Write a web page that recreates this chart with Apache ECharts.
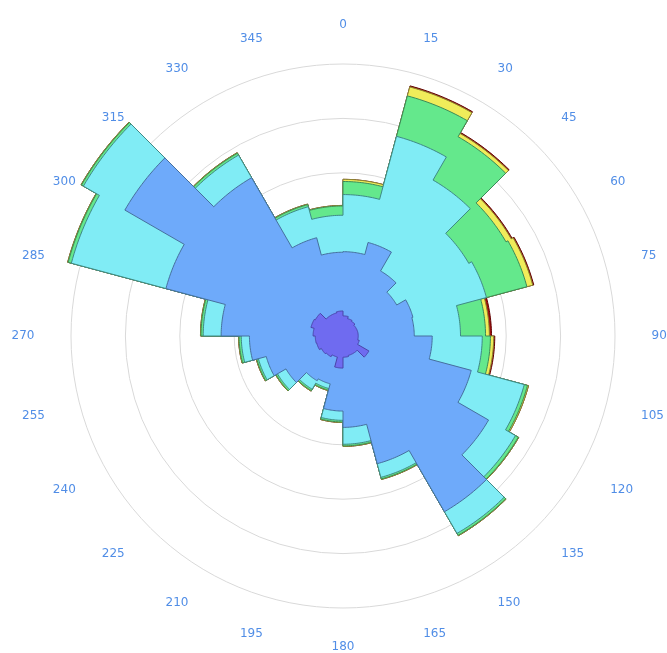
<!DOCTYPE html>
<html>
<head>
<meta charset="utf-8">
<script src="https://cdn.jsdelivr.net/npm/echarts@6/dist/echarts.min.js"></script>
<style>
  html, body { margin: 0; padding: 0; background: #fff; }
  #chart { width: 667px; height: 653px; }
</style>
</head>
<body>
<div id="chart"></div>
<script>
// sector start angles, 15 degree sectors clockwise from north
const sectorStart = [0, 15, 30, 45, 60, 75, 90, 105, 120, 135, 150, 165,
                     180, 195, 210, 225, 240, 255, 270, 285, 300, 315, 330, 345];
const sectorWidth = 15;

// frequency per speed class (stacked outward), one value per sector
const speed1 = [0.37, 0.33, 0.31, 0.28, 0.28, 0.28, 0.28, 0.31, 0.55, 0.37, 0.37, 0.39,
                0.59, 0.40, 0.44, 0.46, 0.50, 0.51, 0.55, 0.61, 0.59, 0.44, 0.44, 0.46];
const speed2 = [1.18, 1.45, 1.07, 0.86, 1.05, 1.03, 1.36, 2.13, 2.54, 3.36, 2.06, 1.29,
                0.79, 0.51, 0.51, 0.75, 0.96, 1.21, 1.69, 2.76, 4.04, 2.92, 1.43, 1.08];
const speed3 = [1.05, 2.02, 1.93, 1.53, 1.40, 0.85, 0.92, 1.01, 0.57, 0.46, 0.26, 0.31,
                0.17, 0.09, 0.18, 0.18, 0.15, 0.15, 0.33, 1.80, 0.88, 0.48, 0.59, 0.68];
const speed4 = [0.24, 0.77, 0.92, 0.79, 0.77, 0.46, 0.15, 0.06, 0.06, 0.04, 0.03, 0.03,
                0.03, 0.03, 0.03, 0.03, 0.03, 0.04, 0.04, 0.06, 0.04, 0.04, 0.04, 0.17];
const speed5 = [0.04, 0.17, 0.07, 0.11, 0.11, 0.07, 0.06, 0.02, 0.01, 0.01, 0.01, 0.01,
                0.01, 0.01, 0.01, 0.01, 0.01, 0.01, 0.01, 0.01, 0.01, 0.01, 0.01, 0.01];
const speed6 = [0, 0.02, 0.02, 0.02, 0.02, 0.04, 0.02, 0, 0, 0, 0, 0,
                0, 0, 0, 0, 0, 0, 0, 0, 0, 0, 0, 0];

const speedNames = ['0-2', '2-4', '4-6', '6-8', '8-10', '>10'];

// angle tick labels
const angleTicks = [0, 15, 30, 45, 60, 75, 90, 105, 120, 135, 150, 165,
                    180, 195, 210, 225, 240, 255, 270, 285, 300, 315, 330, 345];

const center = [343, 336];
const ringRadius = 272;   // outer grid circle, px
const ringCount = 5;
const pxPerUnit = ringRadius / ringCount;
const labelRadius = 308 / pxPerUnit;

const colors  = ['#6f6bf0', '#6eaafa', '#80ecf5', '#64e88c', '#f0ec5a', '#a01010'];
const strokes = ['#4a44a8', '#46709e', '#3f8a86', '#3b8a58', '#8a8630', '#600000'];

const bands = [speed1, speed2, speed3, speed4, speed5, speed6];

// running totals: outer edge of each band per sector
const cumulative = [];
bands.forEach((arr, i) => {
    cumulative.push(arr.map((v, s) => v + (i > 0 ? cumulative[i - 1][s] : 0)));
});

// draw outermost band first so inner ones sit on top
const drawOrder = bands.map((_, i) => bands.length - 1 - i);

function renderBand(params, api) {
    const band = drawOrder[params.dataIndex];
    const radii = cumulative[band];
    const points = [];
    sectorStart.forEach((a0, s) => {
        for (let a = a0; a <= a0 + sectorWidth; a += 1) {
            points.push(api.coord([radii[s], a]));
        }
    });
    return {
        type: 'polygon',
        shape: { points: points },
        style: { fill: colors[band], stroke: strokes[band], lineWidth: 1 }
    };
}

function tickLabel(a) {
    // labels sit beside the point, except straight up / down
    if (a === 0) return { position: 'top', offset: [0, 3] };
    if (a === 180) return { position: 'bottom', offset: [0, -4] };
    return { position: a < 180 ? 'right' : 'left' };
}

const chart = echarts.init(document.getElementById('chart'), null, { renderer: 'canvas' });

chart.setOption({
    animation: false,
    polar: { center: center, radius: ringRadius },
    angleAxis: {
        type: 'value',
        min: 0,
        max: 360,
        interval: sectorWidth,
        startAngle: 90,
        clockwise: true,
        axisLine: { show: false },
        axisTick: { show: false },
        axisLabel: { show: false },
        splitLine: { show: false }
    },
    radiusAxis: {
        type: 'value',
        min: 0,
        max: ringCount,
        interval: 1,
        axisLine: { show: false },
        axisTick: { show: false },
        axisLabel: { show: false },
        splitLine: { show: true, lineStyle: { color: '#d9d9d9', width: 1 } }
    },
    series: [
        {
            type: 'custom',
            name: 'wind',
            coordinateSystem: 'polar',
            clip: false,
            silent: true,
            data: drawOrder.map((b) => ({ name: speedNames[b], value: [b, 0] })),
            renderItem: renderBand
        },
        {
            type: 'scatter',
            name: 'ticks',
            coordinateSystem: 'polar',
            clip: false,
            silent: true,
            symbolSize: 1,
            itemStyle: { color: 'rgba(0,0,0,0)' },
            data: angleTicks.map((a) => ({ value: [labelRadius, a], label: tickLabel(a) })),
            label: {
                show: true,
                distance: 0,
                color: '#2471e0',
                fontFamily: 'DejaVu Sans',
                fontSize: 12,
                formatter: (p) => String(p.value[1])
            }
        }
    ]
});
</script>
</body>
</html>
